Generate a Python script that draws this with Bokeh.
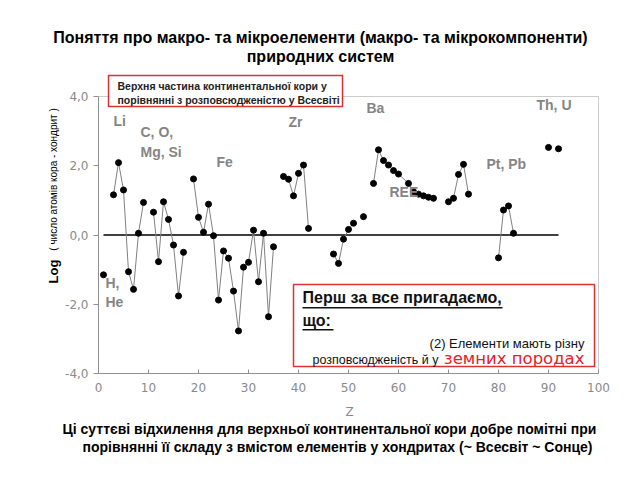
import numpy as np
from bokeh.plotting import figure
from bokeh.models import Label, BoxAnnotation, Range1d, FixedTicker, LinearAxis
from bokeh.embed import file_html
from bokeh.resources import INLINE

nan = float("nan")

# ---- data (atomic number Z, log(crust/chondrite)) ----
z_vals = [1, 2, 3, 4, 5, 6, 7, 8, 9, 10, 11, 12, 13, 14, 15, 16, 17, 18,
          19, 20, 21, 22, 23, 24, 25, 26, 27, 28, 29, 30, 31, 32, 33, 34, 35, 36,
          37, 38, 39, 40, 41, 42, 43,
          47, 48, 49, 50, 51, 52, 53, 54,
          55, 56, 57, 58, 59, 60, 62, 63, 64, 65, 66, 67, 68,
          70, 71, 72, 73, 74, 75,
          80, 81, 82, 83, 84,
          90, 91, 92]
log_vals = [-1.15, nan, 1.16, 2.09, 1.30, -1.06, -1.57, 0.05, 0.94, nan,
            0.66, -0.77, 0.96, 0.45, -0.29, -1.76, -0.50, nan,
            1.62, 0.51, 0.08, 0.89, -0.02, -1.88, -0.46, -0.67, -1.62, -2.77,
            -0.93, -0.79, 0.14, -1.35, 0.05, -2.36, -0.34, nan,
            1.69, 1.61, 1.13, 1.78, 2.02, 0.19, nan,
            -0.55, -0.82, -0.12, 0.16, 0.34, nan, 0.53, nan,
            1.49, 2.46, 2.15, 2.02, 1.86, 1.76, 1.49, 1.25, 1.18, 1.13, 1.09, 1.06, nan,
            0.96, 1.06, 1.75, 2.04, 1.18, nan,
            -0.66, 0.72, 0.84, 0.05, nan,
            2.53, nan, 2.49]
zero_line_z = [1, 92]
zero_line_v = [0, 0]

x_min, x_max = 0, 100
y_min, y_max = -4, 4
x_ticks = [0, 10, 20, 30, 40, 50, 60, 70, 80, 90, 100]
y_ticks = [-4, -2, 0, 2, 4]
y_tick_labels = ["-4,0", "-2,0", "0,0", "2,0", "4,0"]

group_labels = ["Li", "C, O,", "Mg, Si", "Fe", "H,", "He", "Zr", "Ba", "REE", "Pt, Pb", "Th, U"]

# ---- layout: data area occupies pixels [98, 598] x [96, 373] of the 640x480 canvas ----
W, H = 640, 480
PL, PR, PT, PB = 98, 598, 96, 373
sx = (x_max - x_min) / (PR - PL)
sy = (y_max - y_min) / (PB - PT)
x_range = Range1d(x_min - PL * sx, x_max + (W - PR) * sx)
y_range = Range1d(y_min - (H - PB) * sy, y_max + PT * sy)

p = figure(width=W, height=H, x_range=x_range, y_range=y_range,
           output_backend="svg", toolbar_location=None,
           x_axis_location=None, y_axis_location=None,
           min_border_left=0, min_border_right=0, min_border_top=0, min_border_bottom=0)
p.xgrid.visible = False
p.ygrid.visible = False
p.outline_line_color = None
p.background_fill_color = "white"
p.border_fill_color = "white"

axcol = "#909090"
xaxis = LinearAxis(fixed_location=y_min, bounds=(x_min, x_max), ticker=FixedTicker(ticks=x_ticks))
yaxis = LinearAxis(fixed_location=x_min, bounds=(y_min, y_max), ticker=FixedTicker(ticks=y_ticks))
yaxis.major_label_overrides = {t: s for t, s in zip(y_ticks, y_tick_labels)}
for ax in (xaxis, yaxis):
    ax.axis_line_color = axcol
    ax.major_tick_line_color = axcol
    ax.minor_tick_line_color = None
    ax.major_label_text_color = "#8a8a8a"
    ax.major_label_text_font = "DejaVu Sans"
    ax.major_label_text_font_size = "12px"
yaxis.major_tick_out = 5
yaxis.major_tick_in = 0
xaxis.major_tick_out = 0
xaxis.major_tick_in = 4
xaxis.major_label_standoff = 9
yaxis.major_label_standoff = 5
p.add_layout(xaxis, "below")
p.add_layout(yaxis, "left")

# light frame (top / right edges of the plot area)
p.add_layout(BoxAnnotation(left=x_min, right=x_max, top=y_max, bottom=y_min,
                           fill_alpha=0, line_color="#cccccc", line_alpha=1.0,
                           line_width=1, level="underlay"))

# zero line
p.line(zero_line_z, zero_line_v, line_color="black", line_width=1.6)
# data
p.line(z_vals, log_vals, line_color="#808080", line_width=1)
p.scatter(z_vals, log_vals, size=6, color="black")


def lab(px, py, text, **kw):
    opts = dict(text_baseline="middle", text_align="left", text_font="Liberation Sans",
                text_font_size="12px", text_color="black")
    opts.update(kw)
    p.add_layout(Label(x=px, y=py, x_units="canvas", y_units="canvas", text=text, **opts))


def box(l, t, r, b, **kw):
    p.add_layout(BoxAnnotation(left=l, right=r, top=t, bottom=b,
                               left_units="canvas", right_units="canvas",
                               top_units="canvas", bottom_units="canvas", **kw))


# group labels
glab_pos = [(113, 120), (140, 131), (140, 151), (216, 161), (105, 282), (105, 301),
            (288, 121), (366, 107), (389, 191), (486, 163), (536, 104)]
for t, (px, py) in zip(group_labels, glab_pos):
    lab(px, py, t, text_font_style="bold", text_font_size="14px", text_color="#858585")

# axis titles
lab(349, 411, "Z", text_align="center", text_font="DejaVu Sans", text_color="#8a8a8a")
lab(53, 271, "Log", angle=np.pi / 2, text_align="center", text_font_style="bold",
    text_font_size="13px")
lab(53, 179, "( число атомів кора - хондрит )", angle=np.pi / 2, text_align="center",
    text_font_size="10px")

# title
lab(320, 37, "Поняття про макро- та мікроелементи (макро- та мікрокомпоненти)",
    text_align="center", text_font_style="bold", text_font_size="16px")
lab(320, 56, "природних систем", text_align="center", text_font_style="bold", text_font_size="16px")

# caption
lab(329, 428, "Ці суттєві відхилення для верхньої континентальної кори добре помітні при",
    text_align="center", text_font_style="bold", text_font_size="14px")
lab(337, 446, "порівнянні її складу з вмістом елементів у хондритах (~ Всесвіт ~ Сонце)",
    text_align="center", text_font_style="bold", text_font_size="14px")

red = "#e03030"
# top-left box
box(108, 75, 342, 106, fill_color="white", fill_alpha=1.0, line_color=red, line_alpha=1.0,
    line_width=1.5)
lab(117, 85, "Верхня частина континентальної кори у", text_font_style="bold",
    text_font_size="10.5px", text_color="#222222")
lab(117, 99, "порівнянні з розповсюдженістю у Всесвіті", text_font_style="bold",
    text_font_size="10.5px", text_color="#222222")

# bottom-right box
box(293, 284, 594, 366, fill_color="white", fill_alpha=1.0, line_color=red, line_alpha=1.0,
    line_width=1.5)
lab(302, 297, "Перш за все пригадаємо,", text_font_style="bold", text_font_size="16px",
    text_color="#111111")
lab(302, 320, "що:", text_font_style="bold", text_font_size="16px", text_color="#111111")
box(302, 306.5, 502, 308, fill_color="#111111", fill_alpha=1.0, line_color=None)
box(302, 328.5, 333, 330, fill_color="#111111", fill_alpha=1.0, line_color=None)
lab(584, 343, "(2) Елементи мають різну", text_align="right", text_font_size="13px",
    text_color="#111111")
lab(438, 359, "розповсюдженість й у", text_align="right", text_font_size="12.5px",
    text_color="#111111")
lab(584, 358, "земних породах", text_align="right", text_font="DejaVu Sans",
    text_font_size="16.5px", text_color="#e8202a")

open("out.html", "w").write(file_html(p, INLINE))
